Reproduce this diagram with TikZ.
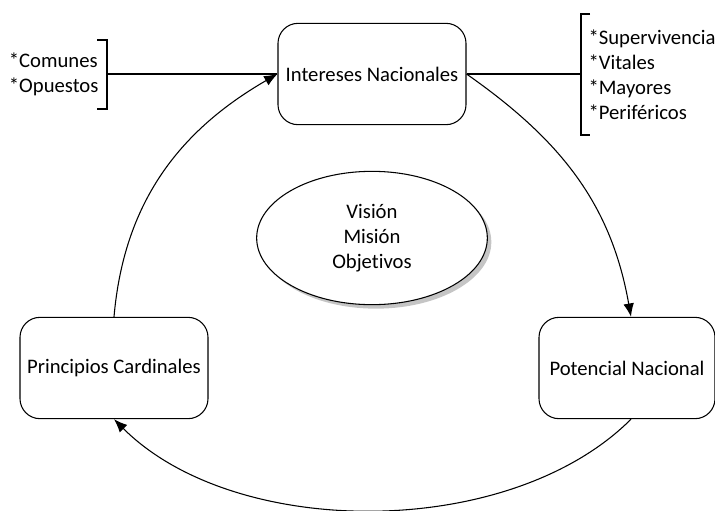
\documentclass[tikz,border=0pt]{standalone}
\usepackage{fontspec}
\setmainfont{Carlito}[Ligatures=NoCommon]
\usetikzlibrary{shapes.geometric,shadows,arrows.meta}

\begin{document}
\begin{tikzpicture}[x=0.75pt,y=-0.75pt,line width=0.8pt,
  txt/.style={font=\fontsize{15.5}{18.75}\selectfont},
  box/.style={txt, rectangle, draw, rounded corners=15pt, fill=white, minimum height=76pt},
  arr/.style={-{Latex[length=10pt,width=8pt]}}]
  \useasboundingbox (0,0) rectangle (715,511);

  % Vision
  \node[txt, ellipse, draw, fill=white, minimum width=173pt, minimum height=100pt, align=center,
    inner sep=0pt, drop shadow={shadow xshift=3pt, shadow yshift=-3pt, fill=black!45}] (vision) at (372,238)
    {Visión\\Misión\\Objetivos};

  % Nodes
  \node[box, minimum width=141pt] (intereses) at (372,74) {Intereses Nacionales};
  \node[box, minimum width=141pt] (principios) at (114,368) {Principios Cardinales};
  \node[box, minimum width=132pt] (potencial) at (627,368) {Potencial Nacional};

  % Left bracket
  \coordinate (lbtop) at (107,40);
  \coordinate (lbbot) at (107,109);
  \coordinate (lbmid) at (107,74);
  \draw (97,40) -- (lbtop) -- (lbbot) -- (97,109);
  \node[txt, anchor=east, align=left, inner sep=0pt] (comunes) at (99,74) {*Comunes\\*Opuestos};
  \draw (lbmid) -- (intereses.west);

  % Right bracket
  \coordinate (rbtop) at (581,14);
  \coordinate (rbbot) at (581,135);
  \coordinate (rbmid) at (581,74);
  \draw (590,14) -- (rbtop) -- (rbbot) -- (590,135);
  \node[txt, anchor=west, align=left, inner sep=0pt] (tipos) at (588,75)
    {*Supervivencia\\*Vitales\\*Mayores\\*Periféricos};
  \draw (intereses.east) -- (rbmid);

  % Cycle
  \draw[arr] (intereses.east) to[out=-35,in=100] ([xshift=3pt]potencial.north);
  \draw[arr] ([xshift=3pt]potencial.south) to[out=-135,in=-45,looseness=0.85] (principios.south);
  \draw[arr] (principios.north) to[out=85,in=-150] (intereses.west);
\end{tikzpicture}
\end{document}
